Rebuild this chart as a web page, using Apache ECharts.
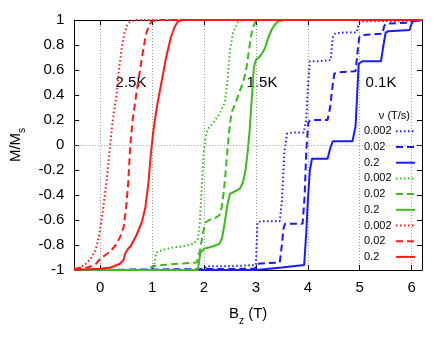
<!DOCTYPE html>
<html>
<head>
<meta charset="utf-8">
<script src="https://cdn.jsdelivr.net/npm/echarts@6/dist/echarts.min.js"></script>
<style>
  html, body { margin: 0; padding: 0; background: #fff; }
  #chart { width: 447px; height: 337px; }
</style>
</head>
<body>
<div id="chart"></div>
<script>
const FONT = 'Liberation Sans, Arial, Helvetica, sans-serif';

// tick values
const xTicks = [0, 1, 2, 3, 4, 5, 6];
const rates = ['0.002', '0.02', '0.2'];

// 0.1 K curves (blue) : [B_z, M/Ms]
const blue002 = [[-0.5,-1],[2.0,-1],[2.05,-0.97],[2.5,-0.97],[3.0,-0.96],[3.03,-0.62],[3.1,-0.61],[3.46,-0.61],[3.5,-0.45],[3.55,-0.05],[3.6,0.09],[3.7,0.1],[3.92,0.1],[3.97,0.2],[4.0,0.45],[4.04,0.67],[4.2,0.67],[4.44,0.68],[4.48,0.86],[4.52,0.89],[4.7,0.9],[4.94,0.9],[4.98,0.97],[5.03,0.99],[6.2,0.995]];
const blue02 = [[-0.5,-1],[2.98,-0.99],[3.02,-0.95],[3.46,-0.94],[3.5,-0.8],[3.53,-0.67],[3.56,-0.63],[3.9,-0.63],[3.94,-0.4],[3.97,-0.05],[4.01,0.18],[4.05,0.2],[4.38,0.2],[4.43,0.3],[4.47,0.45],[4.51,0.57],[4.56,0.58],[4.92,0.59],[4.96,0.75],[4.99,0.86],[5.05,0.88],[5.44,0.89],[5.47,0.95],[5.5,0.97],[5.98,0.98],[6.02,0.995],[6.2,1]];
const blue2 = [[-0.5,-1],[3.0,-1],[3.5,-0.98],[3.93,-0.96],[3.97,-0.7],[4.0,-0.45],[4.04,-0.2],[4.08,-0.11],[4.38,-0.11],[4.43,-0.03],[4.48,0.03],[4.86,0.03],[4.92,0.15],[4.95,0.4],[4.98,0.65],[5.05,0.67],[5.41,0.67],[5.45,0.78],[5.5,0.9],[5.55,0.91],[5.96,0.92],[6.0,0.97],[6.03,0.99],[6.2,1]];

// 1.5 K curves (green)
const green002 = [[-0.5,-1],[1.0,-1],[1.04,-0.96],[1.08,-0.86],[1.2,-0.84],[1.4,-0.82],[1.6,-0.81],[1.8,-0.79],[1.88,-0.75],[1.92,-0.62],[1.96,-0.3],[2.0,-0.03],[2.05,0.1],[2.1,0.14],[2.2,0.19],[2.3,0.25],[2.4,0.34],[2.45,0.5],[2.5,0.76],[2.56,0.9],[2.65,0.98],[2.75,1],[6.2,1]];
const green02 = [[-0.5,-1],[0.95,-1],[1.0,-0.97],[1.2,-0.96],[1.5,-0.95],[1.86,-0.94],[1.92,-0.85],[1.98,-0.7],[2.03,-0.62],[2.1,-0.6],[2.2,-0.59],[2.3,-0.56],[2.34,-0.5],[2.38,-0.38],[2.42,-0.2],[2.45,-0.05],[2.49,0.13],[2.53,0.26],[2.6,0.33],[2.68,0.42],[2.76,0.51],[2.82,0.62],[2.86,0.74],[2.9,0.86],[2.94,0.94],[3.0,0.99],[3.1,1],[6.2,1]];
const green2 = [[-0.5,-1],[1.88,-1],[1.9,-0.95],[1.93,-0.86],[2.0,-0.83],[2.18,-0.81],[2.3,-0.79],[2.35,-0.74],[2.4,-0.62],[2.45,-0.48],[2.5,-0.39],[2.6,-0.37],[2.69,-0.35],[2.75,-0.3],[2.8,-0.2],[2.84,-0.06],[2.88,0.12],[2.92,0.37],[2.96,0.62],[3.0,0.68],[3.1,0.72],[3.17,0.77],[3.24,0.86],[3.3,0.92],[3.36,0.96],[3.43,0.99],[3.55,1],[6.2,1]];

// 2.5 K curves (red)
const red002 = [[-0.5,-0.99],[-0.4,-0.98],[-0.3,-0.96],[-0.2,-0.92],[-0.1,-0.85],[-0.05,-0.78],[0,-0.67],[0.06,-0.5],[0.12,-0.3],[0.18,-0.05],[0.22,0.12],[0.26,0.25],[0.32,0.42],[0.36,0.6],[0.42,0.79],[0.47,0.9],[0.52,0.96],[0.58,0.99],[0.7,1],[6.2,1]];
const red02 = [[-0.5,-0.99],[-0.25,-0.98],[-0.1,-0.96],[0,-0.91],[0.1,-0.88],[0.2,-0.85],[0.3,-0.8],[0.38,-0.74],[0.45,-0.66],[0.5,-0.5],[0.54,-0.3],[0.58,0],[0.63,0.22],[0.7,0.42],[0.76,0.58],[0.82,0.74],[0.88,0.88],[0.94,0.96],[1.0,0.99],[1.1,1],[6.2,1]];
const red2 = [[-0.5,-1],[0,-0.99],[0.2,-0.98],[0.38,-0.95],[0.45,-0.92],[0.48,-0.87],[0.52,-0.84],[0.6,-0.8],[0.7,-0.72],[0.8,-0.62],[0.87,-0.5],[0.93,-0.3],[0.97,-0.1],[1.02,0.1],[1.09,0.3],[1.18,0.5],[1.27,0.7],[1.36,0.86],[1.44,0.95],[1.5,0.99],[1.6,1],[6.2,1]];

const BLUE = '#1a1aff', GREEN = '#3cba1e', RED = '#ff1a1a';
const DOT = [1.5, 2.5], DASH = [7, 4];

function line(key, data, color, dash) {
  return {
    name: key,
    type: 'line',
    data: data,
    symbol: 'none',
    showSymbol: false,
    silent: true,
    itemStyle: { color: color },
    lineStyle: { color: color, width: 2, type: dash || 'solid' }
  };
}

const series = [
  line('0.002#b', blue002, BLUE, DOT),
  line('0.02#b', blue02, BLUE, DASH),
  line('0.2#b', blue2, BLUE),
  line('0.002#g', green002, GREEN, DOT),
  line('0.02#g', green02, GREEN, DASH),
  line('0.2#g', green2, GREEN),
  line('0.002#r', red002, RED, DOT),
  line('0.02#r', red02, RED, DASH),
  line('0.2#r', red2, RED)
];
// dotted zero line
series[0].markLine = {
  silent: true,
  symbol: 'none',
  label: { show: false },
  lineStyle: { color: '#9a9a9a', type: [1, 2], width: 1 },
  data: [{ yAxis: 0 }]
};

const chart = echarts.init(document.getElementById('chart'));
chart.setOption({
  animation: false,
  backgroundColor: '#fff',
  textStyle: { fontFamily: FONT },
  grid: { left: 73, right: 25, top: 20, bottom: 67 },
  legend: {
    orient: 'vertical',
    right: 31,
    top: 125.7,
    padding: 0,
    align: 'right',
    itemWidth: 19,
    itemHeight: 14,
    itemGap: 4.5,
    selectedMode: false,
    itemStyle: { opacity: 0, color: 'rgba(0,0,0,0)', borderWidth: 0 },
    data: series.map(s => s.name),
    formatter: name => '{t|' + name.split('#')[0] + '}',
    textStyle: {
      color: '#000',
      rich: { t: { width: 27, align: 'left', fontSize: 11, fontFamily: FONT, color: '#000' } }
    }
  },
  graphic: [
    { type: 'text', silent: true, style: { text: 'ν (T/s)', x: 410, y: 116, align: 'right', verticalAlign: 'middle', fontSize: 11, fontFamily: FONT, fill: '#000' } },
    { type: 'text', silent: true, style: { text: '2.5K', x: 131, y: 83, align: 'center', verticalAlign: 'middle', fontSize: 15, fontFamily: FONT, fill: '#000' } },
    { type: 'text', silent: true, style: { text: '1.5K', x: 262, y: 83, align: 'center', verticalAlign: 'middle', fontSize: 15, fontFamily: FONT, fill: '#000' } },
    { type: 'text', silent: true, style: { text: '0.1K', x: 381, y: 83, align: 'center', verticalAlign: 'middle', fontSize: 15, fontFamily: FONT, fill: '#000' } }
  ],
  xAxis: [
    {
      type: 'value', position: 'bottom', min: -0.5, max: 6.2, interval: 0.5,
      name: '{a|B}{s|z}{a| (T)}', nameLocation: 'middle', nameGap: 32,
      nameTextStyle: {
        color: '#000',
        rich: {
          a: { fontSize: 15, fontFamily: FONT, color: '#000', lineHeight: 20 },
          s: { fontSize: 10, fontFamily: FONT, color: '#000', verticalAlign: 'bottom', lineHeight: 24 }
        }
      },
      axisLine: { show: true, onZero: false, lineStyle: { color: '#000', width: 1 } },
      axisTick: { show: true, inside: true, length: 5, customValues: xTicks, lineStyle: { color: '#000' } },
      axisLabel: { customValues: xTicks, fontSize: 15, color: '#000', margin: 10, fontFamily: FONT },
      splitLine: { show: true, lineStyle: { color: '#9a9a9a', type: [1, 2], width: 1 } }
    },
    {
      type: 'value', position: 'top', min: -0.5, max: 6.2, interval: 0.5,
      axisLine: { show: true, onZero: false, lineStyle: { color: '#000', width: 1 } },
      axisTick: { show: true, inside: true, length: 5, customValues: xTicks, lineStyle: { color: '#000' } },
      axisLabel: { show: false },
      splitLine: { show: false }
    }
  ],
  yAxis: [
    {
      type: 'value', position: 'left', min: -1, max: 1, interval: 0.2,
      name: '{a|M/M}{s|s}', nameLocation: 'middle', nameRotate: 90, nameGap: 40,
      nameTextStyle: {
        color: '#000',
        rich: {
          a: { fontSize: 15, fontFamily: FONT, color: '#000', lineHeight: 20 },
          s: { fontSize: 10, fontFamily: FONT, color: '#000', verticalAlign: 'bottom', lineHeight: 24 }
        }
      },
      axisLine: { show: true, onZero: false, lineStyle: { color: '#000', width: 1 } },
      axisTick: { show: true, inside: true, length: 5, lineStyle: { color: '#000' } },
      axisLabel: { fontSize: 15, color: '#000', margin: 10, fontFamily: FONT },
      splitLine: { show: false }
    },
    {
      type: 'value', position: 'right', min: -1, max: 1, interval: 0.2,
      axisLine: { show: true, onZero: false, lineStyle: { color: '#000', width: 1 } },
      axisTick: { show: true, inside: true, length: 5, lineStyle: { color: '#000' } },
      axisLabel: { show: false },
      splitLine: { show: false }
    }
  ],
  series: series
});
</script>
</body>
</html>
